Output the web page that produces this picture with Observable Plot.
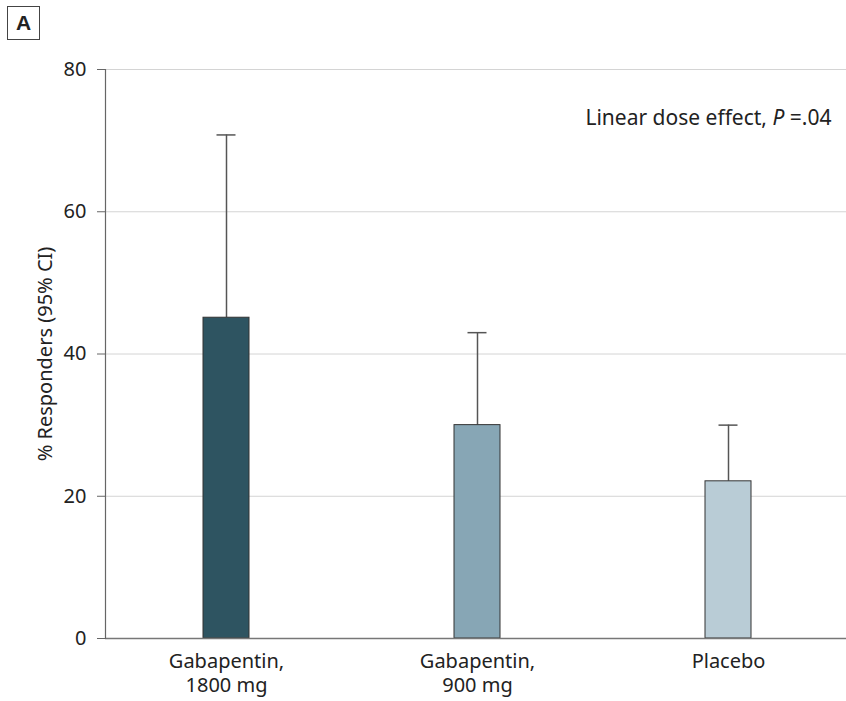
<!DOCTYPE html>
<html><head><meta charset="utf-8">
<script src="https://cdn.jsdelivr.net/npm/d3@7"></script>
<script src="https://cdn.jsdelivr.net/npm/@observablehq/plot@0.6"></script>
<style>
body{margin:0;background:#fff;font-family:"Noto Sans",sans-serif}
#wrap{position:relative;width:846px;height:701px}
#panel{position:absolute;left:7px;top:6px;width:31px;height:32px;border:1.5px solid #444;font:bold 21px "Liberation Sans",Arial,sans-serif;display:flex;align-items:center;justify-content:center;color:#222;background:#fff;z-index:2}
</style></head><body><div id="wrap"><div id="panel">A</div></div>
<script>
const groups = ["Gabapentin, 1800 mg", "Gabapentin, 900 mg", "Placebo"];
const groupLabels = ["Gabapentin,\n1800 mg", "Gabapentin,\n900 mg", "Placebo"];
const responders = [45.1, 30.0, 22.1];
const ciUpper = [70.8, 43.0, 30.0];
const barColors = ["#2e5461", "#87a6b5", "#b9ccd6"];
const yTicks = [0, 20, 40, 60, 80];
const yLabel = "% Responders (95% CI)";
const annotation = ["Linear dose effect, ", "P", " =.04"];

const data = groups.map((g, i) => ({group: g, value: responders[i], upper: ciUpper[i]}));

const chart = Plot.plot({
  width: 846, height: 701,
  marginTop: 69, marginBottom: 63, marginLeft: 105, marginRight: 0,
  style: {fontFamily: '"Noto Sans", sans-serif', fontSize: "20px", color: "#222", background: "#fff", overflow: "visible"},
  x: {domain: groups, paddingInner: 0.817, paddingOuter: 0.382, align: 0.51},
  y: {domain: [0, 80]},
  color: {domain: groups, range: barColors},
  marks: [
    Plot.gridY(yTicks, {stroke: "#d4d4d4", strokeOpacity: 1, strokeWidth: 1}),
    Plot.axisY(yTicks, {tickSize: 8, tickPadding: 11, stroke: "#666", fill: "#222", fontSize: 20,
      label: yLabel, labelAnchor: "center", labelArrow: "none", labelOffset: 68}),
    Plot.axisX({tickSize: 0, tickPadding: 12, fontSize: 20, lineHeight: 1.22, fill: "#222",
      tickFormat: (d) => groupLabels[groups.indexOf(d)], label: null}),
    Plot.ruleX(data, {x: "group", y1: "value", y2: "upper", stroke: "#555", strokeWidth: 1.5}),
    Plot.tickY(data, {x: "group", y: "upper", insetLeft: 13.5, insetRight: 13.5, stroke: "#555", strokeWidth: 1.5}),
    Plot.barY(data, {x: "group", y: "value", fill: "group", stroke: "#333", strokeWidth: 1}),
    Plot.ruleY([0], {stroke: "#777", strokeWidth: 1.5}),
    Plot.frame({anchor: "left", stroke: "#666", strokeWidth: 1.2}),
    Plot.text([annotation.join("")], {frameAnchor: "top-right", dx: -15, dy: 49, lineAnchor: "middle",
      textAnchor: "end", fontSize: 21, fill: "#222", className: "annot"})
  ]
});
document.getElementById("wrap").appendChild(chart);

// italicize the P in the annotation
const t = chart.querySelector(".annot text");
if (t) {
  t.textContent = "";
  annotation.forEach((s, i) => {
    const ts = document.createElementNS("http://www.w3.org/2000/svg", "tspan");
    ts.textContent = s;
    if (i === 1) ts.setAttribute("font-style", "italic");
    t.appendChild(ts);
  });
}
</script>
</body></html>
